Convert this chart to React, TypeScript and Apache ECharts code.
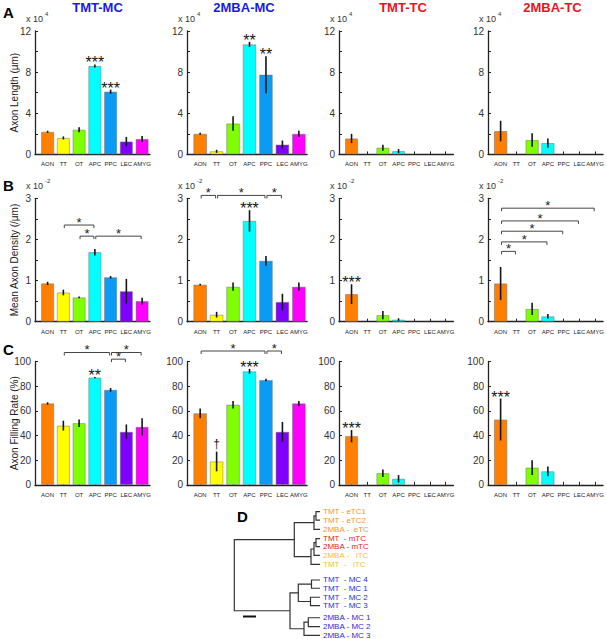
import React, { useEffect, useRef } from 'react';
import * as echarts from 'echarts';

const FONT = 'Liberation Sans, Arial, Helvetica, sans-serif';

const categories = ['AON', 'TT', 'OT', 'APC', 'PPC', 'LEC', 'AMYG'];
const barColors = ['#FF8000', '#FFFF00', '#80FF00', '#00FFFF', '#0A9CF5', '#8000FF', '#FF00FF'];

const panelTitles = ['TMT-MC', '2MBA-MC', 'TMT-TC', '2MBA-TC'];
const titleColors = ['#1a1ae6', '#1a1ae6', '#e8141c', '#e8141c'];
const rowLetters = ['A', 'B', 'C'];
const rowNames = ['Axon Length (\u00b5m)', 'Mean Axon Density (/\u00b5m)', 'Axon Filling Rate (%)'];
const rowScale = ['4', '-2', ''];

// Row A: axon length (x 10^4 um)
const lengthTmtMc = [2.2, 1.6, 2.4, 8.6, 6.1, 1.25, 1.5];
const lengthTmtMcErr = [0.1, 0.15, 0.25, 0.15, 0.2, 0.45, 0.3];
const lengthMbaMc = [2.0, 0.3, 3.0, 10.7, 7.75, 0.95, 2.0];
const lengthMbaMcErr = [0.1, 0.15, 0.7, 0.25, 1.8, 0.4, 0.3];
const lengthTmtTc = [1.55, 0, 0.65, 0.32, 0, 0, 0];
const lengthTmtTcErr = [0.45, 0, 0.3, 0.2, 0, 0, 0];
const lengthMbaTc = [2.27, 0, 1.4, 1.1, 0, 0, 0];
const lengthMbaTcErr = [1.0, 0, 0.65, 0.45, 0, 0, 0];

// Row B: mean axon density (x 10^-2 /um)
const densityTmtMc = [0.93, 0.71, 0.59, 1.69, 1.08, 0.74, 0.5];
const densityTmtMcErr = [0.04, 0.07, 0.02, 0.08, 0.03, 0.3, 0.08];
const densityMbaMc = [0.9, 0.17, 0.85, 2.45, 1.48, 0.48, 0.85];
const densityMbaMcErr = [0.02, 0.07, 0.1, 0.26, 0.12, 0.2, 0.1];
const densityTmtTc = [0.67, 0, 0.16, 0.05, 0, 0, 0];
const densityTmtTcErr = [0.24, 0, 0.1, 0.03, 0, 0, 0];
const densityMbaTc = [0.93, 0, 0.31, 0.13, 0, 0, 0];
const densityMbaTcErr = [0.4, 0, 0.15, 0.06, 0, 0, 0];

// Row C: axon filling rate (%)
const fillTmtMc = [66, 48, 50, 87, 77, 43, 47];
const fillTmtMcErr = [1, 4, 3, 0.5, 1.5, 6, 7];
const fillMbaMc = [58, 19, 65, 92, 85, 43, 66];
const fillMbaMcErr = [4, 8, 3, 2, 1, 8, 2];
const fillTmtTc = [39.5, 0, 9.5, 5, 0, 0, 0];
const fillTmtTcErr = [5, 0, 3, 3, 0, 0, 0];
const fillMbaTc = [53, 0, 14, 11, 0, 0, 0];
const fillMbaTcErr = [17, 0, 6, 4, 0, 0, 0];

const lengthLabels = [0, 4, 8, 12];
const lengthTicks = [0, 2, 4, 6, 8, 10, 12];
const densityLabels = [0, 1, 2, 3];
const densityTicks = [0, 0.5, 1, 1.5, 2, 2.5, 3];
const fillLabels = [0, 20, 40, 60, 80, 100];
const fillTicks = [0, 20, 40, 60, 80, 100];

// significance marks above bars: [row, col, category, text]
const starMarks: [number, number, number, string][] = [
  [0, 0, 3, '***'], [0, 0, 4, '***'], [0, 1, 3, '**'], [0, 1, 4, '**'],
  [1, 1, 3, '***'], [1, 2, 0, '***'],
  [2, 0, 3, '**'], [2, 1, 1, '\u2020'], [2, 1, 3, '***'], [2, 2, 0, '***'], [2, 3, 0, '***'],
];
// comparison brackets: [row, col, from, to, y]
const brackets: [number, number, number, number, number][] = [
  [1, 0, 1, 3, 2.35], [1, 0, 2, 3, 2.08], [1, 0, 3, 6, 2.08],
  [1, 1, 0, 1, 3.07], [1, 1, 1, 4, 3.07], [1, 1, 4, 5, 3.07],
  [1, 3, 0, 1, 1.71], [1, 3, 0, 3, 1.94], [1, 3, 0, 4, 2.2], [1, 3, 0, 5, 2.45], [1, 3, 0, 6, 2.76],
  [2, 0, 1, 4, 107.3], [2, 0, 4, 6, 107.3], [2, 0, 4, 5, 101.9],
  [2, 1, 0, 4, 108.5], [2, 1, 4, 5, 108.5],
];

// dendrogram
const leafNames = [
  'TMT - eTC1', 'TMT - eTC2', '2MBA -  eTC', 'TMT  - mTC', '2MBA - mTC', '2MBA -   iTC', 'TMT  -   iTC',
  'TMT  - MC 4', 'TMT  - MC 1', 'TMT  - MC 2', 'TMT  - MC 3', '2MBA - MC 1', '2MBA - MC 2', '2MBA - MC 3',
];
const leafColors = [
  '#F39233', '#F39233', '#F39233', '#E31B23', '#E31B23', '#F2C12E', '#F2C12E',
  '#2B2BD9', '#2B2BD9', '#2B2BD9', '#2B2BD9', '#2B2BD9', '#2B2BD9', '#2B2BD9',
];
const leafRow = [0, 0.97, 2.05, 3.14, 4.07, 5.07, 6.12, 7.94, 8.9, 9.95, 10.93, 12.33, 13.37, 14.37];
// merges: [nodeA, nodeB, height]; new node index = 14 + merge index
const merges: [number, number, number][] = [
  [0, 1, 4], [14, 2, 6], [3, 4, 4], [16, 5, 6], [17, 6, 9], [15, 18, 25.7],
  [7, 8, 8.5], [9, 10, 9.5], [20, 21, 21.7], [11, 12, 11.7], [23, 13, 16], [22, 24, 30],
  [19, 25, 85.7],
];

const colLeft = [35, 187, 339, 488];
const colStep = [15.75, 16.45, 15.67, 16.1];
const titleCenter = [97.5, 244, 403, 552.5];
const rowTop = [31, 198.3, 361.5];
const rowH = 123.4;
const X_MIN = 0.2;
const X_MAX = 7.5;

function buildOption() {
  const values = [
    [lengthTmtMc, lengthMbaMc, lengthTmtTc, lengthMbaTc],
    [densityTmtMc, densityMbaMc, densityTmtTc, densityMbaTc],
    [fillTmtMc, fillMbaMc, fillTmtTc, fillMbaTc],
  ];
  const errs = [
    [lengthTmtMcErr, lengthMbaMcErr, lengthTmtTcErr, lengthMbaTcErr],
    [densityTmtMcErr, densityMbaMcErr, densityTmtTcErr, densityMbaTcErr],
    [fillTmtMcErr, fillMbaMcErr, fillTmtTcErr, fillMbaTcErr],
  ];
  const yMax = [12, 3, 100];
  const yLabels = [lengthLabels, densityLabels, fillLabels];
  const yTicks = [lengthTicks, densityTicks, fillTicks];

  const grid: any[] = [];
  const xAxis: any[] = [];
  const yAxis: any[] = [];
  const series: any[] = [];
  const graphic: any[] = [];

  for (let r = 0; r < 3; r++) {
    for (let c = 0; c < 4; c++) {
      const i = r * 4 + c;
      grid.push({ left: colLeft[c], top: rowTop[r], width: (X_MAX - X_MIN) * colStep[c], height: rowH });
      xAxis.push({
        type: 'value', gridIndex: i, min: X_MIN, max: X_MAX,
        axisLine: { show: true, onZero: false, lineStyle: { color: '#222', width: 1.3 } },
        axisTick: { show: true, inside: true, length: 3, customValues: [1, 2, 3, 4, 5, 6, 7], lineStyle: { color: '#222' } },
        axisLabel: {
          customValues: [1, 2, 3, 4, 5, 6, 7],
          formatter: (v: number) => categories[Math.round(v) - 1] || '',
          fontSize: 6, fontFamily: FONT, color: '#222', margin: 7,
          showMinLabel: true, showMaxLabel: true, hideOverlap: false,
        },
        splitLine: { show: false },
      });
      yAxis.push({
        type: 'value', gridIndex: i, min: 0, max: yMax[r],
        axisLine: { show: true, lineStyle: { color: '#222', width: 1.3 } },
        axisTick: { show: true, inside: true, length: 3, customValues: yTicks[r], lineStyle: { color: '#222' } },
        axisLabel: { customValues: yLabels[r], fontSize: 10, fontFamily: FONT, color: '#333', margin: 4, showMinLabel: true, showMaxLabel: true },
        splitLine: { show: false },
      });
      const vals = values[r][c];
      const es = errs[r][c];
      series.push({
        type: 'bar', xAxisIndex: i, yAxisIndex: i, barWidth: colStep[c] * 0.82,
        data: vals.map((v, k) => ({ value: [k + 1, v], itemStyle: { color: barColors[k] } })).filter((d) => d.value[1] > 0),
        itemStyle: { borderColor: 'rgba(110,110,110,0.6)', borderWidth: 0.8 },
        silent: true,
      });
      const ebs = vals.map((v, k) => ({ x: k + 1, v, e: es[k] })).filter((d) => d.e > 0);
      series.push({
        type: 'custom', xAxisIndex: i, yAxisIndex: i, z: 3, silent: true,
        data: ebs.map((d) => [d.x, d.v]),
        renderItem: (params: any, api: any) => {
          const d = ebs[params.dataIndex];
          const p1 = api.coord([d.x, d.v - d.e]);
          const p2 = api.coord([d.x, d.v + d.e]);
          return { type: 'line', shape: { x1: p1[0], y1: p1[1], x2: p2[0], y2: p2[1] }, style: { stroke: '#151515', lineWidth: 1.6 } };
        },
      });
      const st = starMarks.filter((s) => s[0] === r && s[1] === c).map((s) => ({ x: s[2] + 1, y: vals[s[2]] + es[s[2]], t: s[3] }));
      if (st.length) {
        series.push({
          type: 'custom', xAxisIndex: i, yAxisIndex: i, z: 4, silent: true,
          data: st.map((s) => [s.x, s.y]),
          renderItem: (params: any, api: any) => {
            const s = st[params.dataIndex];
            const p = api.coord([s.x, s.y]);
            const dagger = s.t === '\u2020';
            return {
              type: 'text',
              style: {
                text: s.t, x: p[0], y: p[1] - (dagger ? 8 : 1.5),
                align: 'center', verticalAlign: 'middle', textAlign: 'center', textVerticalAlign: 'middle',
                font: (dagger ? '12px ' : '16px ') + FONT, fill: '#151515',
              },
            };
          },
        });
      }
      const br = brackets.filter((b) => b[0] === r && b[1] === c).map((b) => ({ a: b[2] + 1, b: b[3] + 1, y: b[4] }));
      if (br.length) {
        series.push({
          type: 'custom', xAxisIndex: i, yAxisIndex: i, z: 4, silent: true, clip: false,
          data: br.map((b) => [b.a, b.y]),
          renderItem: (params: any, api: any) => {
            const b = br[params.dataIndex];
            const p1 = api.coord([b.a + 0.06, b.y]);
            const p2 = api.coord([b.b - 0.06, b.y]);
            return {
              type: 'group',
              children: [
                {
                  type: 'polyline',
                  shape: { points: [[p1[0], p1[1] + 3], [p1[0], p1[1]], [p2[0], p2[1]], [p2[0], p2[1] + 3]] },
                  style: { stroke: '#444', lineWidth: 1, fill: null },
                },
                {
                  type: 'text',
                  style: {
                    text: '*', x: (p1[0] + p2[0]) / 2, y: p1[1] - 2.5,
                    align: 'center', verticalAlign: 'middle', textAlign: 'center', textVerticalAlign: 'middle',
                    font: '13px ' + FONT, fill: '#222',
                  },
                },
              ],
            };
          },
        });
      }
      if (rowScale[r]) {
        graphic.push({ type: 'text', left: colLeft[c] - 9, top: rowTop[r] - 17, style: { text: 'x 10', font: '9px ' + FONT, fill: '#333' } });
        graphic.push({ type: 'text', left: colLeft[c] + 10, top: rowTop[r] - 20, style: { text: rowScale[r], font: '6px ' + FONT, fill: '#333' } });
      }
    }
    graphic.push({ type: 'text', left: 3, top: rowTop[r] - (r === 0 ? 26 : 20), style: { text: rowLetters[r], font: 'bold 15px ' + FONT, fill: '#000' } });
    graphic.push({
      type: 'text', x: 14, y: rowTop[r] + rowH / 2, rotation: Math.PI / 2,
      style: { text: rowNames[r], font: '10px ' + FONT, fill: '#222', align: 'center', verticalAlign: 'middle', textAlign: 'center', textVerticalAlign: 'middle' },
    });
  }
  for (let c = 0; c < 4; c++) {
    graphic.push({
      type: 'text', x: titleCenter[c], y: 7,
      style: { text: panelTitles[c], font: 'bold 13px ' + FONT, fill: titleColors[c], align: 'center', verticalAlign: 'middle', textAlign: 'center', textVerticalAlign: 'middle' },
    });
  }

  // dendrogram
  const nodeY: number[] = leafRow.slice();
  const nodeH: number[] = leafRow.map(() => 0);
  merges.forEach((m) => {
    nodeY.push((nodeY[m[0]] + nodeY[m[1]]) / 2);
    nodeH.push(m[2]);
  });
  const di = 12;
  grid.push({ left: 220, top: 511.7, width: 100, height: 14.4 * 8.6 });
  xAxis.push({ type: 'value', gridIndex: di, min: 0, max: 100, inverse: true, show: false });
  yAxis.push({ type: 'value', gridIndex: di, min: 0, max: 14.4, inverse: true, show: false });
  series.push({
    type: 'custom', xAxisIndex: di, yAxisIndex: di, silent: true,
    data: merges.map((m) => [m[2], (nodeY[m[0]] + nodeY[m[1]]) / 2]),
    renderItem: (params: any, api: any) => {
      const m = merges[params.dataIndex];
      const a = api.coord([nodeH[m[0]], nodeY[m[0]]]);
      const a2 = api.coord([m[2], nodeY[m[0]]]);
      const b2 = api.coord([m[2], nodeY[m[1]]]);
      const b = api.coord([nodeH[m[1]], nodeY[m[1]]]);
      return { type: 'polyline', shape: { points: [a, a2, b2, b] }, style: { stroke: '#333', lineWidth: 1.2, fill: null } };
    },
  });
  series.push({
    type: 'custom', xAxisIndex: di, yAxisIndex: di, silent: true,
    data: leafRow.map((y) => [0, y]),
    renderItem: (params: any, api: any) => {
      const p = api.coord([0, leafRow[params.dataIndex]]);
      return {
        type: 'text',
        style: {
          text: leafNames[params.dataIndex], x: p[0] + 3, y: p[1],
          align: 'left', verticalAlign: 'middle', textAlign: 'left', textVerticalAlign: 'middle',
          font: '8px ' + FONT, fill: leafColors[params.dataIndex],
        },
      };
    },
  });
  graphic.push({ type: 'text', left: 237, top: 509, style: { text: 'D', font: 'bold 15px ' + FONT, fill: '#000' } });
  graphic.push({ type: 'line', shape: { x1: 243, y1: 616.5, x2: 256, y2: 616.5 }, style: { stroke: '#111', lineWidth: 2 } });

  return { animation: false, backgroundColor: '#fff', grid, xAxis, yAxis, series, graphic };
}

export default function App() {
  const ref = useRef<HTMLDivElement>(null);
  useEffect(() => {
    const chart = echarts.init(ref.current!, null, { renderer: 'svg' });
    chart.setOption(buildOption());
    return () => chart.dispose();
  }, []);
  return <div ref={ref} style={{ position: 'fixed', left: 0, top: 0, width: 607, height: 639, background: '#fff' }} />;
}
